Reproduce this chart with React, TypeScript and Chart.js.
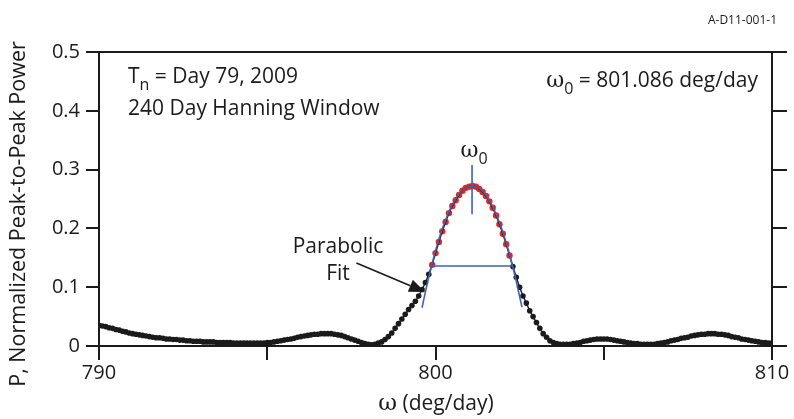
import React, { useEffect, useRef } from 'react';
import { Chart, registerables } from 'chart.js';

Chart.register(...registerables);

// ---------- data ----------
const omega: number[] = [
  790.0, 790.1, 790.2, 790.3, 790.4, 790.5, 790.6, 790.7, 790.8, 790.9,
  791.0, 791.1, 791.2, 791.3, 791.4, 791.5, 791.6, 791.7, 791.8, 791.9,
  792.0, 792.1, 792.2, 792.3, 792.4, 792.5, 792.6, 792.7, 792.8, 792.9,
  793.0, 793.1, 793.2, 793.3, 793.4, 793.5, 793.6, 793.7, 793.8, 793.9,
  794.0, 794.1, 794.2, 794.3, 794.4, 794.5, 794.6, 794.7, 794.8, 794.9,
  795.0, 795.1, 795.2, 795.3, 795.4, 795.5, 795.6, 795.7, 795.8, 795.9,
  796.0, 796.1, 796.2, 796.3, 796.4, 796.5, 796.6, 796.7, 796.8, 796.9,
  797.0, 797.1, 797.2, 797.3, 797.4, 797.5, 797.6, 797.7, 797.8, 797.9,
  798.0, 798.1, 798.2, 798.3, 798.4, 798.5, 798.6, 798.7, 798.8, 798.9,
  799.0, 799.1, 799.2, 799.3, 799.4, 799.5, 799.6, 799.7, 799.8, 799.9,
  800.0, 800.1, 800.2, 800.3, 800.4, 800.5, 800.6, 800.7, 800.8, 800.9,
  801.0, 801.1, 801.2, 801.3, 801.4, 801.5, 801.6, 801.7, 801.8, 801.9,
  802.0, 802.1, 802.2, 802.3, 802.4, 802.5, 802.6, 802.7, 802.8, 802.9,
  803.0, 803.1, 803.2, 803.3, 803.4, 803.5, 803.6, 803.7, 803.8, 803.9,
  804.0, 804.1, 804.2, 804.3, 804.4, 804.5, 804.6, 804.7, 804.8, 804.9,
  805.0, 805.1, 805.2, 805.3, 805.4, 805.5, 805.6, 805.7, 805.8, 805.9,
  806.0, 806.1, 806.2, 806.3, 806.4, 806.5, 806.6, 806.7, 806.8, 806.9,
  807.0, 807.1, 807.2, 807.3, 807.4, 807.5, 807.6, 807.7, 807.8, 807.9,
  808.0, 808.1, 808.2, 808.3, 808.4, 808.5, 808.6, 808.7, 808.8, 808.9,
  809.0, 809.1, 809.2, 809.3, 809.4, 809.5, 809.6, 809.7, 809.8, 809.9,
  810.0,
];

const power: number[] = [
  0.035, 0.034, 0.033, 0.031, 0.030, 0.028, 0.027, 0.025, 0.024, 0.022,
  0.021, 0.020, 0.019, 0.018, 0.017, 0.016, 0.015, 0.014, 0.014, 0.013,
  0.012, 0.012, 0.011, 0.011, 0.010, 0.010, 0.009, 0.009, 0.008, 0.008,
  0.008, 0.007, 0.007, 0.007, 0.007, 0.006, 0.006, 0.006, 0.006, 0.006,
  0.005, 0.005, 0.005, 0.005, 0.005, 0.005, 0.005, 0.005, 0.005, 0.005,
  0.006, 0.006, 0.007, 0.008, 0.009, 0.010, 0.011, 0.012, 0.013, 0.015,
  0.016, 0.017, 0.018, 0.019, 0.020, 0.020, 0.021, 0.021, 0.021, 0.021,
  0.020, 0.019, 0.018, 0.016, 0.014, 0.012, 0.010, 0.008, 0.006, 0.004,
  0.003, 0.002, 0.003, 0.005, 0.007, 0.011, 0.016, 0.022, 0.030, 0.038,
  0.046, 0.054, 0.062, 0.069, 0.076, 0.085, 0.096, 0.108, 0.122, 0.138,
  0.158, 0.177, 0.195, 0.211, 0.226, 0.238, 0.248, 0.257, 0.264, 0.269,
  0.271, 0.272, 0.271, 0.267, 0.262, 0.255, 0.246, 0.235, 0.222, 0.207,
  0.191, 0.173, 0.154, 0.135, 0.117, 0.100, 0.085, 0.073, 0.060, 0.050,
  0.040, 0.030, 0.021, 0.015, 0.009, 0.006, 0.004, 0.003, 0.003, 0.003,
  0.003, 0.004, 0.005, 0.006, 0.008, 0.009, 0.010, 0.011, 0.012, 0.012,
  0.012, 0.012, 0.011, 0.010, 0.009, 0.008, 0.007, 0.006, 0.005, 0.004,
  0.004, 0.003, 0.003, 0.003, 0.003, 0.003, 0.004, 0.005, 0.006, 0.007,
  0.009, 0.010, 0.011, 0.013, 0.014, 0.015, 0.017, 0.018, 0.019, 0.020,
  0.020, 0.021, 0.021, 0.021, 0.020, 0.020, 0.019, 0.018, 0.016, 0.015,
  0.014, 0.012, 0.011, 0.010, 0.009, 0.008, 0.007, 0.006, 0.006, 0.005,
  0.005,
];

// range of points used in the parabolic fit (shown red)
const fitStart = 799.9;
const fitEnd = 802.2;

// parabolic fit curve
const fitOmega: number[] = [
  799.6, 799.7, 799.8, 799.9, 800.0, 800.1, 800.2, 800.3, 800.4, 800.5,
  800.6, 800.7, 800.8, 800.9, 801.0, 801.1, 801.2, 801.3, 801.4, 801.5,
  801.6, 801.7, 801.8, 801.9, 802.0, 802.1, 802.2, 802.3, 802.4, 802.5, 802.57,
];
const fitPower: number[] = [
  0.065, 0.092, 0.117, 0.140, 0.162, 0.181, 0.199, 0.214, 0.228, 0.240,
  0.250, 0.258, 0.264, 0.269, 0.271, 0.272, 0.271, 0.268, 0.263, 0.256,
  0.247, 0.237, 0.224, 0.210, 0.194, 0.176, 0.156, 0.134, 0.110, 0.084, 0.066,
];

const omega0 = 801.086;
const halfWidthOmega: number[] = [799.88, 802.29];
const halfPower = 0.136;
const omega0MarkPower: number[] = [0.224, 0.308];

const xTicks: number[] = [790, 795, 800, 805, 810];
const xTickLabels: string[] = ['790', '', '800', '', '810'];
const yTickLabels: string[] = ['0', '0.1', '0.2', '0.3', '0.4', '0.5'];

const arrowFrom = { x: 797.65, y: 0.141 };
const arrowTo = { x: 799.69, y: 0.092 };

// ---------- styles ----------
const FONT = '"Open Sans", "Noto Sans", sans-serif';
const SERIF = '"DejaVu Serif", "Liberation Serif", serif';
const INK = '#1b1b1b';
const BLUE = '#4161b0';
const RED = '#e8261e';

type Part = { t: string; font: string; dy?: number };

function drawParts(ctx: CanvasRenderingContext2D, parts: Part[], x: number, y: number, align: 'left' | 'right' | 'center') {
  ctx.save();
  ctx.textBaseline = 'alphabetic';
  ctx.textAlign = 'left';
  let total = 0;
  const widths = parts.map((p) => {
    ctx.font = p.font;
    const w = ctx.measureText(p.t).width;
    total += w;
    return w;
  });
  let cx = align === 'left' ? x : align === 'right' ? x - total : x - total / 2;
  parts.forEach((p, i) => {
    ctx.font = p.font;
    ctx.fillText(p.t, cx, y + (p.dy || 0));
    cx += widths[i];
  });
  ctx.restore();
}

const annotPlugin = {
  id: 'annot',
  afterDraw(chart: any) {
    const ctx: CanvasRenderingContext2D = chart.ctx;
    const xs = chart.scales.x;
    const ys = chart.scales.y;
    ctx.save();
    ctx.fillStyle = INK;

    // id label
    drawParts(ctx, [{ t: 'A-D11-001-1', font: `12px ${FONT}` }], 777, 24, 'right');

    // Tn text
    drawParts(ctx, [
      { t: 'T', font: `21px ${FONT}` },
      { t: 'n', font: `16px ${FONT}`, dy: 7 },
      { t: ' = Day 79, 2009', font: `21px ${FONT}` },
    ], 128, 83, 'left');
    drawParts(ctx, [{ t: '240 Day Hanning Window', font: `21px ${FONT}` }], 128, 115, 'left');

    // omega0 value
    drawParts(ctx, [
      { t: 'ω', font: `22px ${SERIF}` },
      { t: '0', font: `16px ${FONT}`, dy: 7 },
      { t: ' = 801.086 deg/day', font: `21px ${FONT}` },
    ], 758, 87, 'right');

    // omega0 above peak
    const px0 = xs.getPixelForValue(omega0);
    drawParts(ctx, [
      { t: 'ω', font: `22px ${SERIF}` },
      { t: '0', font: `16px ${FONT}`, dy: 7 },
    ], px0 + 2, 157, 'center');

    // Parabolic Fit label
    drawParts(ctx, [{ t: 'Parabolic', font: `21px ${FONT}` }], 338, 253, 'center');
    drawParts(ctx, [{ t: 'Fit', font: `21px ${FONT}` }], 338, 280, 'center');

    // arrow
    const ax0 = xs.getPixelForValue(arrowFrom.x);
    const ay0 = ys.getPixelForValue(arrowFrom.y);
    const ax1 = xs.getPixelForValue(arrowTo.x);
    const ay1 = ys.getPixelForValue(arrowTo.y);
    const ang = Math.atan2(ay1 - ay0, ax1 - ax0);
    const headLen = 16;
    const headHalf = 6.5;
    const bx = ax1 - headLen * Math.cos(ang);
    const by = ay1 - headLen * Math.sin(ang);
    ctx.strokeStyle = INK;
    ctx.lineWidth = 1.6;
    ctx.beginPath();
    ctx.moveTo(ax0, ay0);
    ctx.lineTo(bx, by);
    ctx.stroke();
    ctx.beginPath();
    ctx.moveTo(ax1, ay1);
    ctx.lineTo(bx + headHalf * Math.sin(ang), by - headHalf * Math.cos(ang));
    ctx.lineTo(bx - headHalf * Math.sin(ang), by + headHalf * Math.cos(ang));
    ctx.closePath();
    ctx.fill();

    // axis titles
    drawParts(ctx, [
      { t: 'ω', font: `23px ${SERIF}` },
      { t: ' (deg/day)', font: `21px ${FONT}` },
    ], 436, 410, 'center');

    ctx.save();
    ctx.translate(25, 214);
    ctx.rotate(-Math.PI / 2);
    drawParts(ctx, [{ t: 'P, Normalized Peak-to-Peak Power', font: `21.5px ${FONT}` }], 0, 0, 'center');
    ctx.restore();

    ctx.restore();
  },
};

export default function App() {
  const ref = useRef<HTMLCanvasElement | null>(null);

  useEffect(() => {
    if (!ref.current) return;
    const pts = omega.map((w, i) => ({ x: w, y: power[i] }));
    const isFit = (w: number) => w >= fitStart - 1e-6 && w <= fitEnd + 1e-6;

    const axisCommon = {
      type: 'linear' as const,
      grid: {
        display: true,
        drawOnChartArea: false,
        drawTicks: true,
        color: INK,
        lineWidth: 2,
      },
      border: { display: true, color: INK, width: 2 },
    };

    const chart = new Chart(ref.current, {
      type: 'line',
      data: {
        datasets: [
          {
            label: 'data points',
            data: pts,
            showLine: false,
            pointRadius: (c: any) => (c.raw && isFit(c.raw.x) ? 3.2 : 2.8),
            pointHoverRadius: 2.8,
            pointBorderWidth: 0,
            pointBackgroundColor: (c: any) => (c.raw && isFit(c.raw.x) ? RED : INK),
            pointBorderColor: (c: any) => (c.raw && isFit(c.raw.x) ? RED : INK),
            order: 5,
          },
          {
            label: 'data line',
            data: pts,
            borderColor: INK,
            borderWidth: 1.4,
            pointRadius: 0,
            tension: 0,
            order: 4,
          },
          {
            label: 'parabolic fit',
            data: fitOmega.map((w, i) => ({ x: w, y: fitPower[i] })),
            borderColor: BLUE,
            borderWidth: 1.6,
            pointRadius: 0,
            tension: 0.3,
            order: 2,
          },
          {
            label: 'half width',
            data: halfWidthOmega.map((w) => ({ x: w, y: halfPower })),
            borderColor: BLUE,
            borderWidth: 1.6,
            pointRadius: 0,
            order: 1,
          },
          {
            label: 'omega0',
            data: omega0MarkPower.map((p) => ({ x: omega0, y: p })),
            borderColor: BLUE,
            borderWidth: 1.6,
            pointRadius: 0,
            order: 1,
          },
        ],
      },
      options: {
        animation: false,
        responsive: false,
        events: [],
        layout: { padding: 0 },
        plugins: { legend: { display: false }, tooltip: { enabled: false } },
        scales: {
          x: {
            ...axisCommon,
            position: 'bottom',
            min: 790,
            max: 810,
            grid: { ...axisCommon.grid, tickLength: 14 },
            afterBuildTicks: (s: any) => {
              s.ticks = xTicks.map((v) => ({ value: v }));
            },
            ticks: {
              padding: 3,
              maxRotation: 0,
              autoSkip: false,
              color: INK,
              font: { family: FONT, size: 20, lineHeight: 1 },
              callback: (v: any) => {
                const i = xTicks.indexOf(Number(v));
                return i >= 0 ? xTickLabels[i] : '';
              },
            },
            afterFit: (s: any) => {
              s.height = 73;
            },
          },
          xTop: {
            ...axisCommon,
            axis: 'x',
            position: 'top',
            min: 790,
            max: 810,
            grid: { display: false, drawOnChartArea: false, drawTicks: false },
            ticks: { display: false },
            afterFit: (s: any) => {
              s.height = 52;
            },
          },
          y: {
            ...axisCommon,
            position: 'left',
            min: 0,
            max: 0.5,
            grid: { ...axisCommon.grid, tickLength: 13 },
            ticks: {
              stepSize: 0.1,
              padding: 6,
              color: INK,
              font: { family: FONT, size: 20 },
              callback: (v: any) => yTickLabels[Math.round(Number(v) * 10)] ?? '',
            },
            afterFit: (s: any) => {
              s.width = 99;
            },
          },
          yRight: {
            ...axisCommon,
            axis: 'y',
            position: 'right',
            min: 0,
            max: 0.5,
            grid: { ...axisCommon.grid, tickLength: 15 },
            ticks: { stepSize: 0.1, display: false },
            afterFit: (s: any) => {
              s.width = 22;
            },
          },
        },
      } as any,
      plugins: [annotPlugin],
    });
    return () => chart.destroy();
  }, []);

  return (
    <div style={{ position: 'absolute', left: 0, top: 0, width: 794, height: 419, background: '#fff' }}>
      <canvas ref={ref} width={794} height={419} style={{ display: 'block' }} />
    </div>
  );
}
